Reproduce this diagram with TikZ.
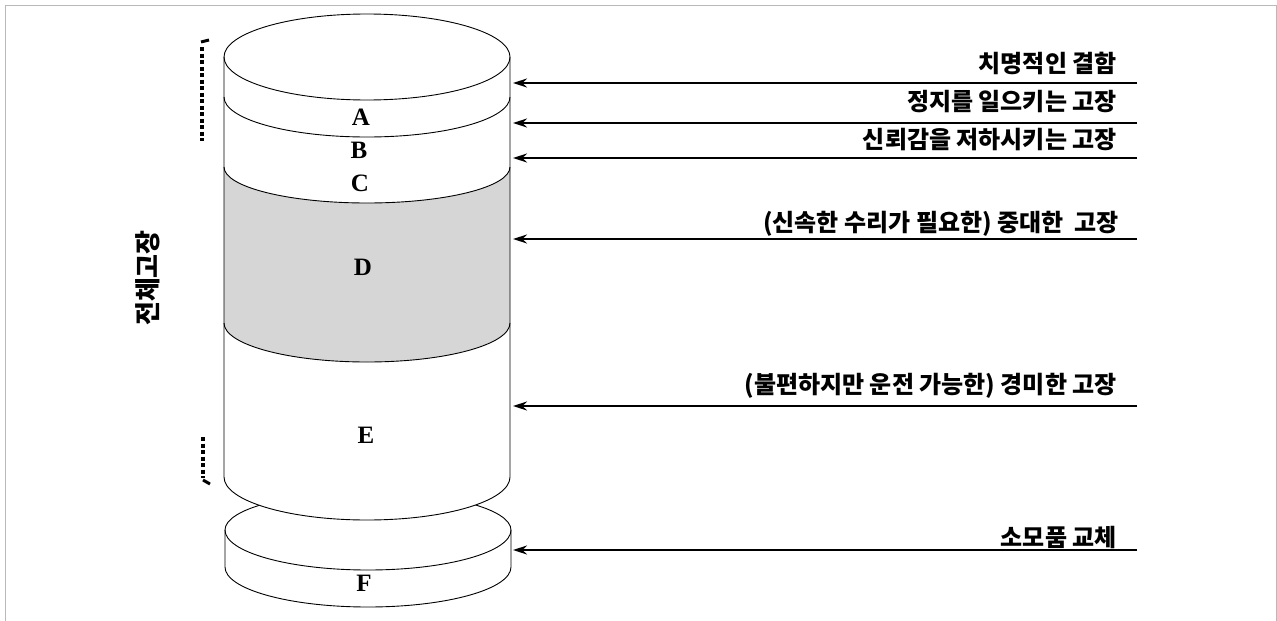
\documentclass[tikz,border=0pt]{standalone}
\usepackage{fontspec}
\setmainfont{Liberation Serif}
\newfontfamily\kr{Noto Sans CJK KR}
\usetikzlibrary{arrows.meta}
\begin{document}
\begin{tikzpicture}[x=1pt,y=1pt,
  outline/.style={draw=black, line width=0.9pt},
  seg/.style={draw=black, line width=0.9pt},
  letter/.style={font=\bfseries\fontsize{25}{25}\selectfont, inner sep=0pt},
  krlbl/.style={font=\kr\bfseries\fontsize{24}{24}\selectfont, inner sep=0pt, anchor=east},
  feed/.style={line width=1.5pt, -{Stealth[length=14pt,width=9pt]}},
  bracket/.style={line width=3.4pt, dash pattern=on 4pt off 2.5pt},
  hook/.style={line width=3pt}
]
\useasboundingbox (0,0) rectangle (1277,-621);
% frame
\draw[gray!55, line width=0.6pt] (5,-621) -- (5,-5) -- (1276,-5) -- (1276,-621);

% bottom disc F
\path[outline, fill=white] (225,-530) -- (225,-567)
  arc[start angle=180,end angle=360,x radius=143,y radius=40] -- (511,-530)
  arc[start angle=0,end angle=180,x radius=143,y radius=38] -- cycle;
\draw[seg] (225,-530) arc[start angle=180,end angle=360,x radius=143,y radius=40];

% main cylinder body
\path[fill=white] (224,-57) -- (224,-477)
  arc[start angle=180,end angle=360,x radius=143,y radius=43] -- (510,-57)
  arc[start angle=0,end angle=180,x radius=143,y radius=43] -- cycle;
% shaded band D
\fill[black!16] (224,-167) arc[start angle=180,end angle=360,x radius=143,y radius=36]
  -- (510,-323) arc[start angle=0,end angle=-180,x radius=143,y radius=39] -- cycle;
\path[outline] (224,-57) -- (224,-477)
  arc[start angle=180,end angle=360,x radius=143,y radius=43] -- (510,-57)
  arc[start angle=0,end angle=180,x radius=143,y radius=43] -- cycle;
% band boundaries
\draw[seg] (224,-57) arc[start angle=180,end angle=360,x radius=143,y radius=43];
\draw[seg] (224,-97) arc[start angle=180,end angle=360,x radius=143,y radius=40];
\draw[seg] (224,-167) arc[start angle=180,end angle=360,x radius=143,y radius=36];
\draw[seg] (224,-323) arc[start angle=180,end angle=360,x radius=143,y radius=39];

% letters
\node[letter] (A) at (361,-117) {A};
\node[letter] (B) at (359,-150) {B};
\node[letter] (C) at (360,-183) {C};
\node[letter] (D) at (363,-267) {D};
\node[letter] (E) at (366,-435) {E};
\node[letter] (F) at (364,-583) {F};

% vertical label and brackets
\node[rotate=90, inner sep=0pt, font=\kr\bfseries\fontsize{26}{26}\selectfont] (total) at (148,-278) {전체고장};
\draw[hook] (201,-42) -- (209,-40);
\draw[bracket] (202,-47) -- (202,-141);
\draw[bracket] (203,-437) -- (203,-478);
\draw[hook] (203,-480) -- (210,-484);

% arrows
\coordinate (s1) at (1137,-83);  \coordinate (e1) at (513,-83);
\coordinate (s2) at (1137,-123); \coordinate (e2) at (513,-123);
\coordinate (s3) at (1137,-158); \coordinate (e3) at (513,-158);
\coordinate (s4) at (1137,-239); \coordinate (e4) at (513,-239);
\coordinate (s5) at (1137,-406); \coordinate (e5) at (513,-406);
\coordinate (s6) at (1137,-550); \coordinate (e6) at (513,-550);
\draw[feed] (s1) -- (e1);
\draw[feed] (s2) -- (e2);
\draw[feed] (s3) -- (e3);
\draw[feed] (s4) -- (e4);
\draw[feed] (s5) -- (e5);
\draw[feed] (s6) -- (e6);

% labels
\node[krlbl] (t1) at (1117,-63) {치명적인 결함};
\node[krlbl] (t2) at (1117,-102) {정지를 일으키는 고장};
\node[krlbl] (t3) at (1117,-140) {신뢰감을 저하시키는 고장};
\node[krlbl] (t4) at (1119,-224) {(신속한 수리가 필요한) 중대한\ \ 고장};
\node[krlbl] (t5) at (1117,-386) {(불편하지만 운전 가능한) 경미한 고장};
\node[krlbl] (t6) at (1117,-537) {소모품 교체};
\end{tikzpicture}
\end{document}
